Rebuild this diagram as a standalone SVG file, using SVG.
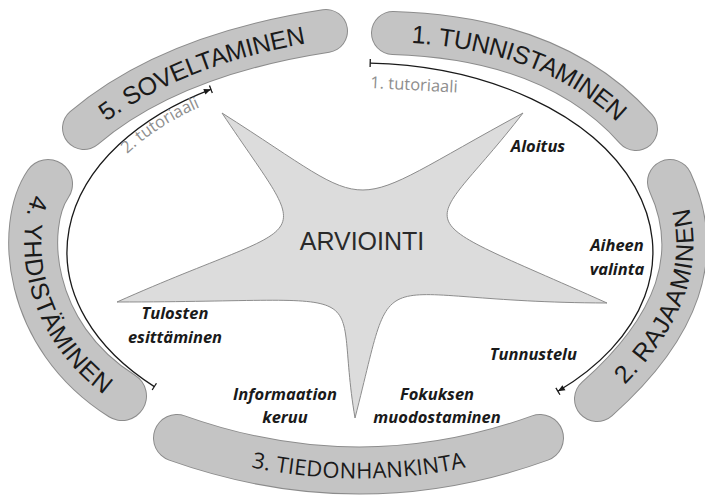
<svg xmlns="http://www.w3.org/2000/svg" width="705" height="497" viewBox="0 0 705 497">
<style>
.bo{fill:none;stroke:#8c8c8c;stroke-linecap:round}
.bf{fill:none;stroke:#c4c4c4;stroke-linecap:round}
.bt{font-family:"Liberation Sans",Arial,sans-serif;font-size:25px;fill:#1a1a1a;text-anchor:middle}
.bt3{font-family:"Open Sans",sans-serif;font-size:22px;fill:#1a1a1a;text-anchor:middle}
.lab{font-family:"Open Sans",sans-serif;font-weight:bold;font-style:italic;font-size:16.5px;fill:#1a1a1a;text-anchor:middle}
.tut{font-family:"Open Sans",sans-serif;font-size:16.5px;fill:#8e8e8e}
.arc{fill:none;stroke:#1a1a1a;stroke-width:1.3}
</style>
<defs>
<path id="p1" d="M393,33 Q555,38 636,129"/>
<path id="p2" d="M597,399 Q720,290 670,182"/>
<path id="p3" d="M177,438 Q360,503 540,438"/>
<path id="p4" d="M48,184 C20,225 25,335 122,396"/>
<path id="p5" d="M84,128 Q170,55 326,31"/>
<path id="tp2" d="M127,154 A281 177 0 0 1 264.2,86"/>
<marker id="tee" viewBox="-2 -5 4 10" refX="0" refY="0" markerWidth="4" markerHeight="10" orient="auto" markerUnits="userSpaceOnUse">
<path d="M0,-4V4" stroke="#1a1a1a" stroke-width="1.3"/>
</marker>
<marker id="arrtee" viewBox="-9 -5 10 10" refX="0" refY="0" markerWidth="10" markerHeight="10" orient="auto" markerUnits="userSpaceOnUse">
<path d="M-7,-3 L0,0 L-7,3 Z" fill="#1a1a1a"/>
<path d="M0,-4V4" stroke="#1a1a1a" stroke-width="1.3"/>
</marker>
</defs>

<g id="band1">
<use href="#p1" class="bo" stroke-width="44"/>
<use href="#p1" class="bf" stroke-width="42"/>
<text class="bt" dy="9"><textPath href="#p1" startOffset="50%">1. TUNNISTAMINEN</textPath></text>
</g>
<g id="band2">
<use href="#p2" class="bo" stroke-width="46"/>
<use href="#p2" class="bf" stroke-width="44"/>
<text class="bt" dy="9"><textPath href="#p2" startOffset="50%">2. RAJAAMINEN</textPath></text>
</g>
<g id="band3">
<use href="#p3" class="bo" stroke-width="48"/>
<use href="#p3" class="bf" stroke-width="46"/>
<text class="bt3" dy="8"><textPath href="#p3" startOffset="50%">3. TIEDONHANKINTA</textPath></text>
</g>
<g id="band4">
<use href="#p4" class="bo" stroke-width="50"/>
<use href="#p4" class="bf" stroke-width="48"/>
<text class="bt" dy="9"><textPath href="#p4" startOffset="50%">4. YHDISTÄMINEN</textPath></text>
</g>
<g id="band5">
<use href="#p5" class="bo" stroke-width="44"/>
<use href="#p5" class="bf" stroke-width="42"/>
<text class="bt" dy="9"><textPath href="#p5" startOffset="50%">5. SOVELTAMINEN</textPath></text>
</g>

<g id="arviointi">
<path d="M222,113 C385.3,216.5 334.4,214.8 523,113 C424.4,241 393.6,207.1 607,303 C360.8,302.3 398.3,249.5 355,418 C331.1,276.7 391.6,302 117,302 C317.6,212.6 316.1,254.4 222,113 Z" fill="#dcdcdc" stroke="#8c8c8c" stroke-width="1"/>
<text x="362" y="250" font-family="Liberation Sans, Arial, sans-serif" font-size="25" fill="#2a2a2a" text-anchor="middle">ARVIOINTI</text>
</g>

<g id="connectors">
<path class="arc" d="M370.2,63.1 A293 189 0 0 1 557.9,391.3" marker-start="url(#tee)" marker-end="url(#arrtee)"/>
<path class="arc" d="M154.3,386.6 A293 189 0 0 1 210.9,89.3" marker-start="url(#tee)" marker-end="url(#arrtee)"/>
</g>

<g id="tutorial1">
<text class="tut" x="370" y="88" transform="rotate(3 370 88)">1. tutoriaali</text>
</g>
<g id="tutorial2">
<text class="tut"><textPath href="#tp2">2. tutoriaali</textPath></text>
</g>

<g id="aloitus"><text class="lab" x="538" y="152">Aloitus</text></g>
<g id="aiheen"><text class="lab" x="617" y="251">Aiheen<tspan x="617" y="275">valinta</tspan></text></g>
<g id="tunnustelu"><text class="lab" x="577" y="360" style="text-anchor:end">Tunnustelu</text></g>
<g id="fokuksen"><text class="lab" x="437" y="400">Fokuksen<tspan x="437" y="423">muodostaminen</tspan></text></g>
<g id="informaatio"><text class="lab" x="285" y="400">Informaation<tspan x="285" y="423">keruu</tspan></text></g>
<g id="tulosten"><text class="lab" x="175" y="319">Tulosten<tspan x="175" y="343">esittäminen</tspan></text></g>
</svg>
